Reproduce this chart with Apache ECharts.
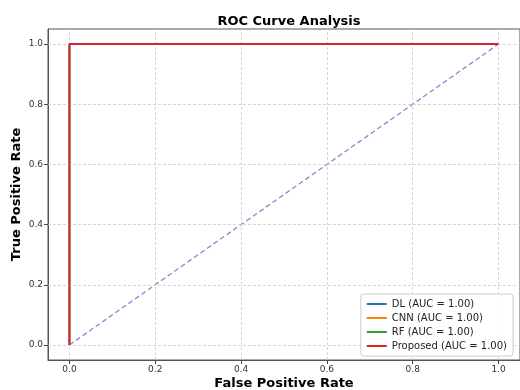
<!DOCTYPE html>
<html>
<head>
<meta charset="utf-8">
<script src="https://cdn.jsdelivr.net/npm/echarts@6/dist/echarts.min.js"></script>
<style>
  html, body { margin: 0; padding: 0; background: #fff; }
  #chart { width: 520px; height: 390px; }
</style>
</head>
<body>
<div id="chart"></div>
<script>
// ROC points per model (fpr, tpr)
const models = ["DL", "CNN", "RF", "Proposed"];
const aucs = [1.0, 1.0, 1.0, 1.0];
const fpr = [0, 0, 1];
const tpr = [0, 1, 1];
const colors = ["#1f77b4", "#ff7f0e", "#2ca02c", "#d62728"];
const chanceX = [0, 1];
const chanceY = [0, 1];
const tickVals = [0, 0.2, 0.4, 0.6, 0.8, 1.0];

const font = "DejaVu Sans";
const chart = echarts.init(document.getElementById("chart"));

const names = models.map((m, i) => `${m} (AUC = ${aucs[i].toFixed(2)})`);

const gridLines = [
  ...tickVals.map(v => ({ xAxis: v })),
  ...tickVals.map(v => ({ yAxis: v }))
];

const axisCommon = {
  type: "value",
  min: -0.05,
  max: 1.05,
  nameLocation: "middle",
  nameMoveOverlap: false,
  nameTextStyle: { fontFamily: font, fontWeight: "bold", fontSize: 13, color: "#000" },
  axisLine: { show: true, onZero: false, lineStyle: { color: "#555", width: 1 } },
  axisTick: { show: true, length: 4, customValues: tickVals, lineStyle: { color: "#444" } },
  axisLabel: {
    customValues: tickVals,
    formatter: v => v.toFixed(1),
    fontFamily: font,
    fontSize: 9,
    color: "#333",
    margin: 5
  },
  splitLine: { show: false }
};

chart.setOption({
  animation: false,
  title: {
    text: "ROC Curve Analysis",
    left: 284,
    top: 10,
    textAlign: "center",
    textStyle: { fontFamily: font, fontWeight: "bold", fontSize: 13, color: "#000" }
  },
  grid: {
    left: 48,
    right: 0,
    top: 29,
    bottom: 30,
    containLabel: false,
    outerBoundsMode: "none",
    show: true,
    borderColor: "#555",
    borderWidth: 1
  },
  legend: {
    data: names,
    orient: "vertical",
    right: 7,
    bottom: 34,
    itemWidth: 20,
    itemHeight: 2,
    itemGap: 4,
    icon: "rect",
    padding: [5, 6, 5, 6],
    borderColor: "#ccc",
    borderWidth: 1,
    borderRadius: 3,
    backgroundColor: "rgba(255,255,255,0.9)",
    z: 10,
    textStyle: { fontFamily: font, fontSize: 10, color: "#222" }
  },
  xAxis: Object.assign({}, axisCommon, { name: "False Positive Rate", nameGap: 17 }),
  yAxis: Object.assign({}, axisCommon, { name: "True Positive Rate", nameGap: 25 }),
  series: [
    {
      name: "chance",
      type: "line",
      data: chanceX.map((x, i) => [x, chanceY[i]]),
      showSymbol: false,
      silent: true,
      lineStyle: { color: "#9a7fcc", width: 1.3, type: [5, 3] },
      markLine: {
        silent: true,
        symbol: "none",
        label: { show: false },
        lineStyle: { color: "#ccc", type: [3, 2], width: 0.8 },
        data: gridLines
      },
      z: 1
    },
    ...names.map((n, i) => ({
      name: n,
      type: "line",
      data: fpr.map((x, j) => [x, tpr[j]]),
      showSymbol: false,
      itemStyle: { color: colors[i] },
      lineStyle: { color: colors[i], width: i === 3 ? 2 : 1.5 },
      z: 2 + i
    }))
  ]
});
</script>
</body>
</html>
